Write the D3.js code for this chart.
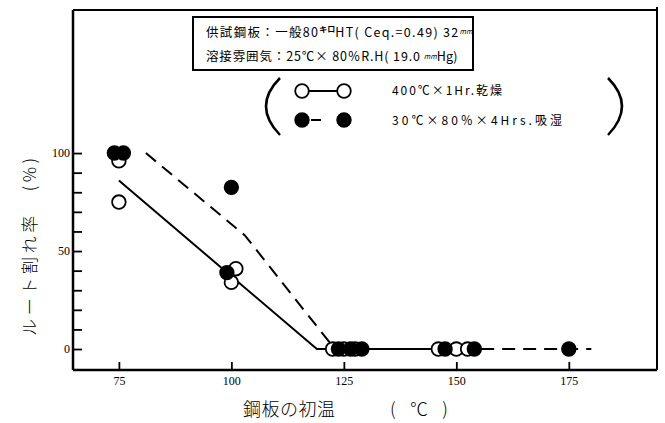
<!DOCTYPE html>
<html><head><meta charset="utf-8">
<script src="https://cdn.jsdelivr.net/npm/d3@7"></script>
<style>body{margin:0;background:#fff}svg{display:block}</style>
</head><body>
<script>
// Data
const xTicks = [75, 100, 125, 150, 175];
const yTicks = [0,10,20,30,40,50,60,70,80,90,100];
const yLabels = [0, 50, 100];
const dryPoints = [[75,96],[75,75],[101,41],[100,34],[122.5,0],[125,0],[127.5,0],[146,0],[150,0],[152.5,0]];
const wetPoints = [[74,100],[76,100],[99,39],[100,82.5],[123.8,0],[126.5,0],[129,0],[147.5,0],[154,0],[175,0]];
const dryLine = [[75,86],[119,0],[154,0]];
const wetLine = [[81,100],[103,58],[123,0],[180,0]];
const legendDry = "400℃×1Hr.乾燥";
const legendWet = "30℃×80％×4Hrs.吸湿";
const xTitleMain = "鋼板の初温";
const xTitleUnit = "(℃)";
const yTitle = "ルート割れ率　(%)";

const W = 665, H = 423;
const L = 73, R = 657, T = 10, B = 370;
const x = d3.scaleLinear().domain([64.8, 194.6]).range([L, R]);
const y = d3.scaleLinear().domain([-10.7, 173]).range([B, T]);

const svg = d3.select("body").append("svg").attr("width", W).attr("height", H);
const jp = "'Noto Sans CJK JP', sans-serif";
const serif = "'Liberation Serif', 'DejaVu Serif', serif";

// frame top/right
svg.append("line").attr("x1", L).attr("x2", R).attr("y1", T).attr("y2", T).attr("stroke", "#000").attr("stroke-width", 2);
svg.append("line").attr("x1", R).attr("x2", R).attr("y1", T - 3).attr("y2", B).attr("stroke", "#000").attr("stroke-width", 2);

// axes
const xAxis = d3.axisBottom(x).tickValues(xTicks).tickSizeInner(-8).tickSizeOuter(0).tickPadding(6);
const gx = svg.append("g").attr("transform", `translate(0,${B})`).call(xAxis);
gx.select(".domain").attr("d", `M${L},0H${R}`).attr("stroke-width", 2.5);
gx.selectAll(".tick line").attr("stroke-width", 1.8);
gx.selectAll("text").attr("font-family", serif).attr("font-size", 12).attr("fill", "#000");

const yAxis = d3.axisLeft(y).tickValues(yTicks).tickSizeInner(-9).tickSizeOuter(0).tickPadding(3)
  .tickFormat(d => yLabels.includes(d) ? d : "");
const gy = svg.append("g").attr("transform", `translate(${L},0)`).call(yAxis);
gy.select(".domain").attr("d", `M0,${T}V${B}`).attr("stroke-width", 2.5);
gy.selectAll(".tick line").attr("stroke-width", 1.8);
gy.selectAll("text").attr("font-family", serif).attr("font-size", 12).attr("fill", "#000");

// lines
const line = d3.line().x(d => x(d[0])).y(d => y(d[1]));
svg.append("path").attr("d", line(wetLine)).attr("fill", "none").attr("stroke", "#000").attr("stroke-width", 2).attr("stroke-dasharray", "13,8");
svg.append("path").attr("d", line(dryLine)).attr("fill", "none").attr("stroke", "#000").attr("stroke-width", 2);

// points
const r = 6.8;
svg.selectAll(".dry").data(dryPoints).join("circle").attr("cx", d => x(d[0])).attr("cy", d => y(d[1])).attr("r", r)
  .attr("fill", "#fff").attr("stroke", "#000").attr("stroke-width", 1.8);
svg.selectAll(".wet").data(wetPoints).join("circle").attr("cx", d => x(d[0])).attr("cy", d => y(d[1])).attr("r", r)
  .attr("fill", "#000").attr("stroke", "#000").attr("stroke-width", 1.8);

// info box
svg.append("rect").attr("x", 193).attr("y", 17).attr("width", 280).attr("height", 53)
  .attr("fill", "#fff").attr("stroke", "#000").attr("stroke-width", 2);
const t1 = svg.append("text").attr("x", 206).attr("y", 37).attr("font-family", jp).attr("font-size", 12.5).attr("fill", "#000");
t1.append("tspan").attr("textLength", 112).attr("lengthAdjust", "spacing").text("供試鋼板：一般80");
t1.append("tspan").attr("font-size", 8).attr("dy", -5).attr("font-weight", "bold").text("キロ");
t1.append("tspan").attr("dy", 5).attr("textLength", 123).attr("lengthAdjust", "spacing").text("HT( Ceq.=0.49) 32");
t1.append("tspan").attr("font-size", 7).attr("dy", -3).attr("font-style", "italic").text("mm");
const t2 = svg.append("text").attr("x", 206).attr("y", 61).attr("font-family", jp).attr("font-size", 12.5).attr("fill", "#000");
t2.append("tspan").attr("textLength", 214).attr("lengthAdjust", "spacing").text("溶接雰囲気：25℃× 80％R.H( 19.0");
t2.append("tspan").attr("font-size", 7).attr("dx", 3).attr("dy", -2).attr("font-style", "italic").text("mm");
t2.append("tspan").attr("dy", 2).text("Hg)");

// legend parens
svg.append("path").attr("d", "M280,78 Q252,106 280,135").attr("fill", "none").attr("stroke", "#000").attr("stroke-width", 2.5);
svg.append("path").attr("d", "M608,78 Q636,106 608,135").attr("fill", "none").attr("stroke", "#000").attr("stroke-width", 2.5);

// legend entries
svg.append("line").attr("x1", 302).attr("x2", 344).attr("y1", 91).attr("y2", 91).attr("stroke", "#000").attr("stroke-width", 2);
svg.append("line").attr("x1", 302).attr("x2", 344).attr("y1", 120).attr("y2", 120).attr("stroke", "#000").attr("stroke-width", 2).attr("stroke-dasharray", "0,9,10,30");
[302, 344].forEach(cx => {
  svg.append("circle").attr("cx", cx).attr("cy", 91).attr("r", r).attr("fill", "#fff").attr("stroke", "#000").attr("stroke-width", 1.8);
  svg.append("circle").attr("cx", cx).attr("cy", 120).attr("r", r).attr("fill", "#000").attr("stroke", "#000").attr("stroke-width", 1.8);
});
svg.append("text").attr("x", 392).attr("y", 95).attr("font-family", jp).attr("font-size", 12).attr("fill", "#000")
  .attr("textLength", 110).attr("lengthAdjust", "spacing").text(legendDry);
svg.append("text").attr("x", 392).attr("y", 125).attr("font-family", jp).attr("font-size", 12).attr("fill", "#000")
  .attr("textLength", 170).attr("lengthAdjust", "spacing").text(legendWet);

// titles
svg.append("text").attr("x", 243).attr("y", 416).attr("font-family", jp).attr("font-size", 18).attr("font-weight", 300).attr("fill", "#000")
  .attr("textLength", 92).attr("lengthAdjust", "spacing").text(xTitleMain);
svg.append("text").attr("x", 390).attr("y", 416).attr("font-family", jp).attr("font-size", 18).attr("font-weight", 300).attr("fill", "#000")
  .attr("textLength", 58).attr("lengthAdjust", "spacing").text(xTitleUnit);
svg.append("text").attr("transform", "translate(36,247) rotate(-90)").attr("text-anchor", "middle")
  .attr("font-family", jp).attr("font-size", 17).attr("font-weight", 300).attr("fill", "#000")
  .attr("textLength", 178).attr("lengthAdjust", "spacing").text(yTitle);
</script>
</body></html>
